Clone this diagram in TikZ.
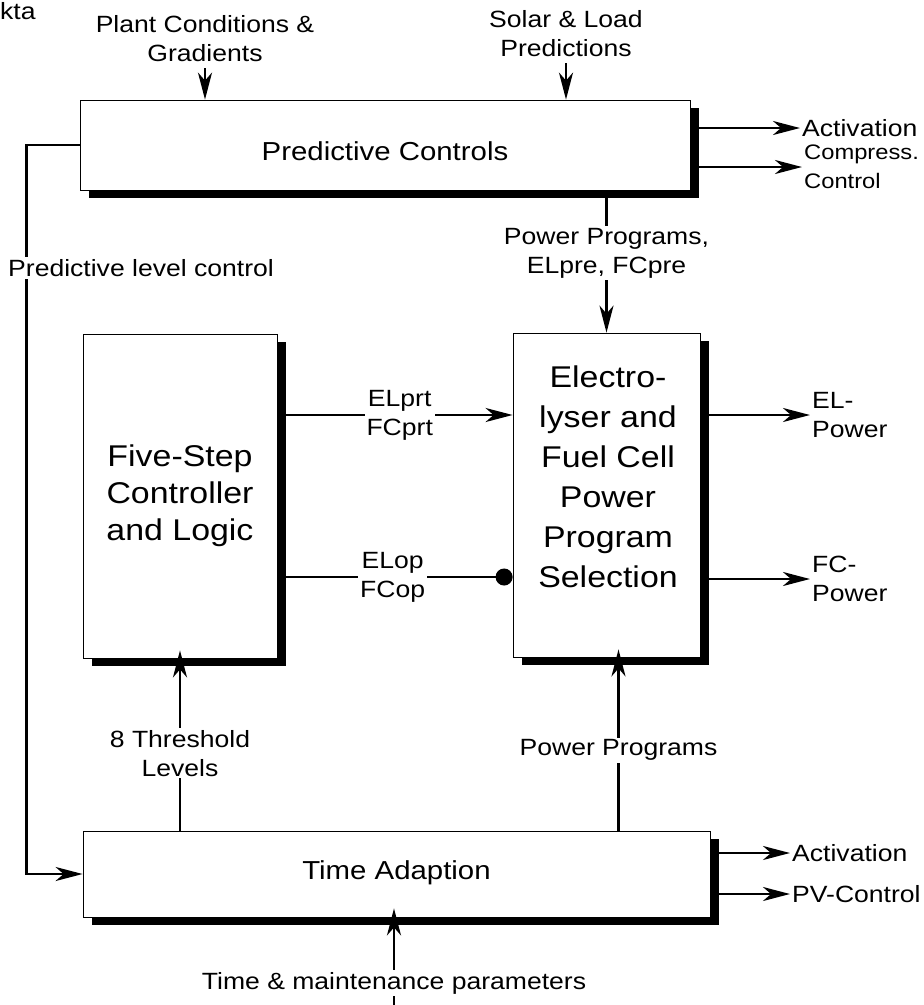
\documentclass[tikz,border=0pt]{standalone}
\usepackage{fontspec}
\setmainfont{Liberation Sans}[FakeStretch=1.13]
\usetikzlibrary{arrows.meta,shadows}

\newcommand*{\picw}{924}
\newcommand*{\pich}{1005}

\begin{document}
\begin{tikzpicture}
[
	x=1pt,
	y=-1pt,
	block/.style={draw,line width=0.8pt,fill=white,inner sep=0pt,
		drop shadow={shadow xshift=9pt,shadow yshift=-8pt,fill=black,opacity=1}},
	lbl/.style={font=\fontsize{23.5}{29}\selectfont,align=center,inner sep=2pt},
	midtext/.style={font=\fontsize{26}{31}\selectfont},
	bigtext/.style={font=\fontsize{30}{40}\selectfont,align=center},
	conn/.style={line width=2.6pt,-{Stealth[length=27pt,width=14pt,inset=8pt]}},
	dotconn/.style={line width=2.6pt,-{Circle[length=17pt]}}
]

	\useasboundingbox (0,0) rectangle (\picw,\pich);

	% blocks
	\node[block,midtext,minimum width=610pt,minimum height=90pt,text height=31pt] (pred) at (385,145) {Predictive Controls};
	\node[block,bigtext,minimum width=194pt,minimum height=324pt,font=\fontsize{30}{37}\selectfont] (five) at (180,496) {Five-Step\\Controller\\and Logic};
	\node[block,minimum width=187pt,minimum height=324pt] (elfc) at (606.5,495) {};
	\node[bigtext] (elfctxt) at (608,477) {Electro-\\lyser and\\Fuel Cell\\Power\\Program\\Selection};
	\node[block,midtext,minimum width=627pt,minimum height=86pt,text depth=8pt] (time) at (396.5,874) {Time Adaption};

	% inputs on top
	\node[lbl,anchor=base west,inner sep=0pt] (kta) at (0,19) {kta};
	\node[lbl] (plant) at (205,39) {Plant Conditions \&\\Gradients};
	\node[lbl] (solar) at (566,34) {Solar \& Load\\Predictions};
	\draw[conn,shorten <=4pt] (plant.south) -- (plant.south |- pred.north);
	\draw[conn,shorten <=4pt] (solar.south) -- (solar.south |- pred.north);

	% outputs of predictive controls
	\node[lbl,anchor=west] (actpred) at (800,128) {Activation};
	\node[lbl,anchor=west,align=left,font=\fontsize{21}{29}\selectfont] (compr) at (802,167) {Compress.\\Control};
	\draw[conn] (pred.east |- actpred.west) -- (actpred.west);
	\draw[conn] (pred.east |- compr.west) -- (compr.west);

	% predictive level control
	\draw[conn] (pred.west) -- ++(-53,0) |- (time.west);
	\node[lbl,fill=white,anchor=west] (plc) at (6,268) {Predictive level control};

	% power programs from the top
	\draw[conn] (pred.south -| elfc.north) -- (elfc.north)
		node[lbl,fill=white,pos=0.44] (ppre) {Power Programs,\\ELpre, FCpre};

	% five-step to selection
	\draw[conn] ([yshift=81pt]five.east) -- ([yshift=81pt]five.east -| elfc.west)
		node[lbl,fill=white,pos=0.52] (prt) {ELprt\\FCprt};
	\draw[dotconn] ([yshift=-81pt]five.east) -- ([yshift=-81pt]five.east -| elfc.west)
		node[lbl,fill=white,pos=0.49] (op) {ELop\\FCop};

	% outputs of selection
	\node[lbl,anchor=west,align=left] (elpow) at (810,415) {EL-\\Power};
	\node[lbl,anchor=west,align=left] (fcpow) at (810,579) {FC-\\Power};
	\draw[conn] (elfc.east |- elpow.west) -- (elpow.west);
	\draw[conn] (elfc.east |- fcpow.west) -- (fcpow.west);

	% time adaption upwards
	\draw[conn,shorten >=-8pt] (time.north -| five.south) -- (five.south)
		node[lbl,fill=white,pos=0.45] (thr) {8 Threshold\\Levels};
	\draw[conn,shorten >=-8pt] (time.north -| elfc.south) ++(12,0) -- ([xshift=12pt]elfc.south)
		node[lbl,fill=white,pos=0.465] (pprog) {Power Programs};

	% outputs of time adaption
	\node[lbl,anchor=west] (acttime) at (790,853) {Activation};
	\node[lbl,anchor=west] (pvctl) at (790,894) {PV-Control};
	\draw[conn] (time.east |- acttime.west) -- (acttime.west);
	\draw[conn] (time.east |- pvctl.west) -- (pvctl.west);

	% time and maintenance input
	\coordinate (tmpin) at (394,1010);
	\draw[conn,shorten >=-9pt] (tmpin) -- (tmpin |- time.south)
		node[lbl,fill=white,pos=0.29] (tmp) {Time \& maintenance parameters};

\end{tikzpicture}
\end{document}
